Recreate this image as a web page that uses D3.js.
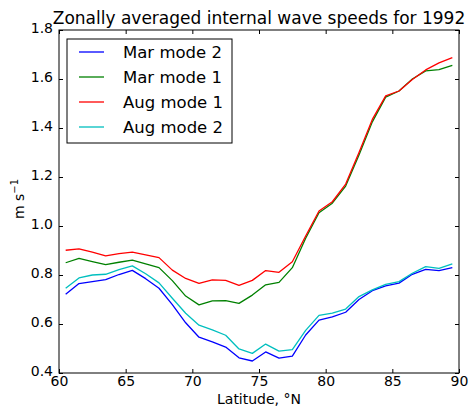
<!DOCTYPE html>
<html><head><meta charset="utf-8">
<script src="https://cdn.jsdelivr.net/npm/d3@7/dist/d3.min.js"></script>
<style>body{margin:0;background:#fff}svg{display:block}text{font-family:"DejaVu Sans",sans-serif;fill:#000}</style>
</head><body>
<svg id="c" width="470" height="408"></svg>
<script>
const latitudes = [60.5,61.5,62.5,63.5,64.5,65.5,66.5,67.5,68.5,69.5,70.5,71.5,72.5,73.5,74.5,75.5,76.5,77.5,78.5,79.5,80.5,81.5,82.5,83.5,84.5,85.5,86.5,87.5,88.5,89.5];
const marMode2 = [0.721,0.765,0.773,0.781,0.802,0.819,0.785,0.746,0.679,0.605,0.546,0.527,0.506,0.462,0.449,0.486,0.461,0.469,0.555,0.616,0.629,0.648,0.700,0.736,0.756,0.767,0.803,0.823,0.818,0.830];
const marMode1 = [0.850,0.868,0.855,0.842,0.852,0.861,0.845,0.830,0.777,0.714,0.678,0.694,0.695,0.684,0.718,0.760,0.770,0.830,0.950,1.054,1.093,1.163,1.290,1.425,1.526,1.551,1.600,1.633,1.638,1.656];
const augMode1 = [0.901,0.907,0.893,0.878,0.887,0.893,0.882,0.871,0.820,0.786,0.766,0.780,0.778,0.758,0.778,0.818,0.811,0.854,0.959,1.061,1.099,1.171,1.300,1.435,1.531,1.551,1.598,1.637,1.666,1.687];
const augMode2 = [0.746,0.788,0.800,0.803,0.822,0.837,0.805,0.768,0.705,0.644,0.595,0.576,0.554,0.498,0.480,0.518,0.489,0.495,0.574,0.635,0.644,0.661,0.712,0.739,0.762,0.773,0.807,0.834,0.827,0.845];
const xTicks = [60,65,70,75,80,85,90];
const yTicks = [0.4,0.6,0.8,1.0,1.2,1.4,1.6,1.8];
const seriesNames = ["Mar mode 2","Mar mode 1","Aug mode 1","Aug mode 2"];
const seriesValues = [marMode2, marMode1, augMode1, augMode2];
const seriesColors = ["#0000ff","#008000","#ff0000","#00bfbf"];

const svg = d3.select("#c");
const L=59, R=459, T=30, B=373;
const x = d3.scaleLinear().domain([60,90]).range([L,R]);
const y = d3.scaleLinear().domain([0.4,1.8]).range([B,T]);

const line = d3.line().x((d,i)=>x(latitudes[i])).y(d=>y(d));
const g = svg.append("g");
seriesValues.forEach((vals,k)=>{
  g.append("path").attr("d",line(vals)).attr("fill","none")
   .attr("stroke",seriesColors[k]).attr("stroke-width",1.3).attr("stroke-linejoin","round");
});

// axes (inward ticks, matplotlib classic)
const ax = svg.append("g").attr("transform",`translate(0,${B})`)
  .call(d3.axisBottom(x).tickValues(xTicks).tickSize(-4).tickPadding(3).tickFormat(d3.format("d")));
const axT = svg.append("g").attr("transform",`translate(0,${T})`)
  .call(d3.axisTop(x).tickValues(xTicks).tickSize(-4).tickFormat(""));
const ay = svg.append("g").attr("transform",`translate(${L},0)`)
  .call(d3.axisLeft(y).tickValues(yTicks).tickSize(-4).tickPadding(6).tickFormat(d3.format(".1f")));
const ayR = svg.append("g").attr("transform",`translate(${R},0)`)
  .call(d3.axisRight(y).tickValues(yTicks).tickSize(-4).tickFormat(""));
[ax,axT,ay,ayR].forEach(a=>{a.select(".domain").remove(); a.selectAll("line").attr("stroke","#000");
  a.selectAll("text").style("font-size","14px").style("font-family","DejaVu Sans").attr("fill","#000");});
ay.selectAll("text").attr("dy","0.2em");
svg.append("rect").attr("x",L).attr("y",T).attr("width",R-L).attr("height",B-T)
  .attr("fill","none").attr("stroke","#000").attr("stroke-width",1);

// title
svg.append("text").attr("x",(L+R)/2).attr("y",24).attr("text-anchor","middle")
  .style("font-size","17px").text("Zonally averaged internal wave speeds for 1992");
// x label
svg.append("text").attr("x",(L+R)/2).attr("y",404).attr("text-anchor","middle")
  .style("font-size","14px").text("Latitude, °N");
// y label
const yl = svg.append("text").attr("transform","translate(24,199) rotate(-90)").attr("text-anchor","middle")
  .style("font-size","14px");
yl.append("tspan").text("m s");
yl.append("tspan").attr("dy",-6).style("font-size","10px").text("−1");

// legend
const lg = svg.append("g");
lg.append("rect").attr("x",67).attr("y",39).attr("width",165).attr("height",104)
  .attr("fill","#fff").attr("stroke","#000").attr("stroke-width",1);
seriesNames.forEach((n,k)=>{
  const yy = 52 + k*25;
  lg.append("line").attr("x1",79).attr("x2",104).attr("y1",yy).attr("y2",yy)
    .attr("stroke",seriesColors[k]).attr("stroke-width",1.3);
  lg.append("text").attr("x",123).attr("y",yy+6).style("font-size","16.5px").text(n);
});
</script>
</body></html>
